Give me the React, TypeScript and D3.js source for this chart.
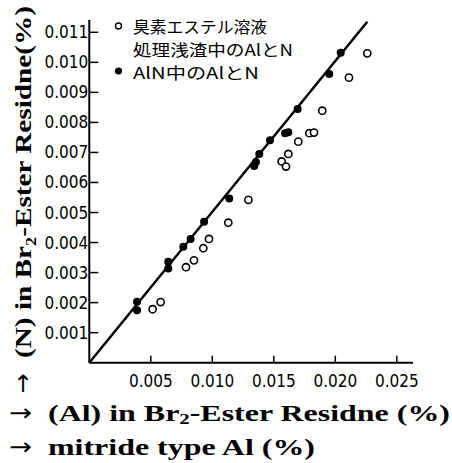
import React from 'react';
import * as d3 from 'd3';

// (Al %, N %)
const alnPoints = [
  [0.00388, 0.00203], [0.00388, 0.00175], [0.00642, 0.00336], [0.00642, 0.00314],
  [0.00764, 0.00386], [0.00824, 0.00412], [0.00933, 0.00469], [0.01138, 0.00547],
  [0.0134, 0.00655], [0.01355, 0.00668], [0.01382, 0.00695], [0.01469, 0.00741],
  [0.01591, 0.00764], [0.01618, 0.00767], [0.01694, 0.00845], [0.01951, 0.00961],
  [0.02044, 0.01032],
];
const esterPoints = [
  [0.00515, 0.00178], [0.0058, 0.00202], [0.00786, 0.00318], [0.00851, 0.00341],
  [0.00927, 0.00381], [0.00973, 0.00412], [0.0113, 0.00466], [0.01293, 0.00542],
  [0.01564, 0.0067], [0.01599, 0.00653], [0.01618, 0.00695], [0.01699, 0.00736],
  [0.01789, 0.00764], [0.01827, 0.00766], [0.01894, 0.00839], [0.02111, 0.00949],
  [0.0226, 0.0103],
];
const fitLine = [[0, 0], [0.0226, 0.01135]];
const xTicks = [0.005, 0.01, 0.015, 0.02, 0.025];
const xTickLabels = ['0.005', '0.010', '0.015', '0.020', '0.025'];
const yTicks = [0.001, 0.002, 0.003, 0.004, 0.005, 0.006, 0.007, 0.008, 0.009, 0.01, 0.011];
const yTickLabels = ['0.001', '0.002', '0.003', '0.004', '0.005', '0.006', '0.007', '0.008', '0.009', '0.010', '0.011'];
const legendLabels = ['臭素エステル溶液', '処理浅渣中のAlとN', 'AlN中のAlとN'];

const x = d3.scaleLinear().domain([0, 0.025]).range([89.3, 396.8]);
const y = d3.scaleLinear().domain([0, 0.011]).range([362.7, 32.3]);
const line = d3.line<number[]>().x(d => x(d[0])).y(d => y(d[1]));

const tickFont = '"Liberation Sans Narrow", "DejaVu Sans Condensed", sans-serif';
const serif = '"Liberation Serif", "DejaVu Serif", serif';
const cjk = '"Noto Sans CJK JP", sans-serif';
const arrowFont = '"DejaVu Sans", sans-serif';

export default function App() {
  return (
    <svg width={452} height={463} style={{ position: 'absolute', left: 0, top: 0, background: '#fff' }}>
      {/* axes */}
      <line x1={x(0)} y1={y(0)} x2={x(0)} y2={20} stroke="#000" strokeWidth={2} />
      <line x1={x(0)} y1={y(0)} x2={413} y2={y(0)} stroke="#000" strokeWidth={2} />
      {yTicks.map((t, i) => (
        <g key={'y' + i}>
          <line x1={x(0)} x2={x(0) + 9} y1={y(t)} y2={y(t)} stroke="#000" strokeWidth={1.5} />
          <text x={x(0) - 1} y={y(t) + 6} textAnchor="end" fontFamily={tickFont} fontSize={17}>{yTickLabels[i]}</text>
        </g>
      ))}
      {xTicks.map((t, i) => (
        <g key={'x' + i}>
          <line x1={x(t)} x2={x(t)} y1={y(0)} y2={y(0) - 7} stroke="#000" strokeWidth={1.5} />
          <text x={x(t)} y={387} textAnchor="middle" fontFamily={tickFont} fontSize={17}>{xTickLabels[i]}</text>
        </g>
      ))}

      {/* fitted line */}
      <path d={line(fitLine) || ''} stroke="#000" strokeWidth={2.5} fill="none" />

      {/* data */}
      {esterPoints.map((d, i) => (
        <circle key={'e' + i} cx={x(d[0])} cy={y(d[1])} r={3.6} fill="#fff" stroke="#000" strokeWidth={1.6} />
      ))}
      {alnPoints.map((d, i) => (
        <circle key={'a' + i} cx={x(d[0])} cy={y(d[1])} r={4} fill="#000" />
      ))}

      {/* legend */}
      <circle cx={118.5} cy={26} r={3} fill="#fff" stroke="#000" strokeWidth={1.4} />
      <text x={133} y={33} fontFamily={cjk} fontSize={16} textLength={134} lengthAdjust="spacingAndGlyphs">{legendLabels[0]}</text>
      <text x={133} y={56} fontFamily={cjk} fontSize={16} textLength={160} lengthAdjust="spacingAndGlyphs">{legendLabels[1]}</text>
      <circle cx={118.5} cy={71} r={3.6} fill="#000" />
      <text x={133} y={79} fontFamily={cjk} fontSize={16} textLength={126} lengthAdjust="spacingAndGlyphs">{legendLabels[2]}</text>

      {/* y axis title */}
      <text transform="translate(31,358) rotate(-90)" fontFamily={serif} fontWeight="bold" fontSize={24}
        textLength={352} lengthAdjust="spacingAndGlyphs">
        (N) in Br<tspan fontSize={15} dy={5}>2</tspan><tspan dy={-5}>-Ester Residne(%)</tspan>
      </text>
      <text x={23} y={392} textAnchor="middle" fontFamily={arrowFont} fontSize={24}>↑</text>

      {/* x axis titles */}
      <text x={9} y={421} fontFamily={arrowFont} fontSize={24} textLength={23} lengthAdjust="spacingAndGlyphs">→</text>
      <text x={48} y={421} fontFamily={serif} fontWeight="bold" fontSize={23} textLength={402} lengthAdjust="spacingAndGlyphs">
        (Al) in Br<tspan fontSize={15} dy={3}>2</tspan><tspan dy={-3}>-Ester Residne (%)</tspan>
      </text>
      <text x={9} y={455} fontFamily={arrowFont} fontSize={24} textLength={23} lengthAdjust="spacingAndGlyphs">→</text>
      <text x={48} y={455} fontFamily={serif} fontWeight="bold" fontSize={23} textLength={267} lengthAdjust="spacingAndGlyphs">
        mitride type Al (%)
      </text>
    </svg>
  );
}
